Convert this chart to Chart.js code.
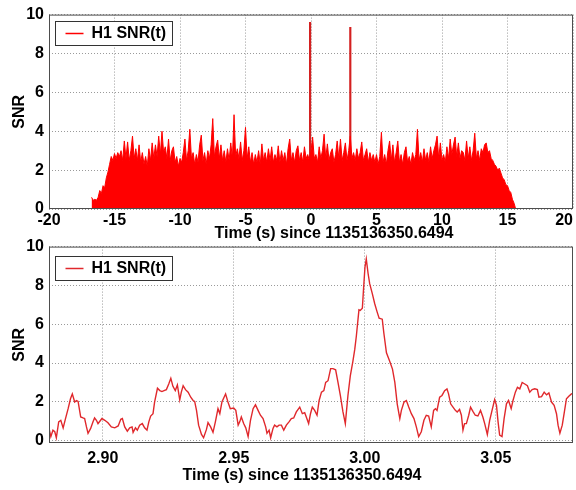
<!DOCTYPE html>
<html>
<head>
<meta charset="utf-8">
<script src="https://cdn.jsdelivr.net/npm/chart.js@4.4.0/dist/chart.umd.min.js"></script>
<style>
  body { margin: 0; background: #fff; }
  #wrap { position: relative; width: 576px; height: 490px; overflow: hidden; }
  .panel { position: absolute; left: 0; width: 576px; }
  #topPanel { top: 0; height: 245px; }
  #bottomPanel { top: 232px; height: 258px; }
</style>
</head>
<body>
<div id="wrap">
  <div class="panel" id="topPanel"><canvas id="topChart"></canvas></div>
  <div class="panel" id="bottomPanel"><canvas id="bottomChart"></canvas></div>
</div>
<script>
const seriesLabel = 'H1 SNR(t)';
const xTitle = 'Time (s) since 1135136350.6494';
const yTitle = 'SNR';

// overview panel: SNR envelope read every 0.125 s from -16.75 s
const overviewStart = -16.75;
const overviewStep = 0.125;
const overviewSnr = [
  0.6, 0.45, 0.5, 0.45, 0.6, 0.95, 0.8, 1.2,
  1.1, 1.6, 1.9, 2.3, 2.7, 2.5, 2.85, 2.6,
  2.9, 2.7, 3.0, 2.5, 3.5, 2.6, 3.45, 2.5,
  3.0, 3.75, 2.6, 3.1, 2.5, 3.3, 2.4, 2.9,
  2.3, 2.7, 2.2, 3.1, 2.5, 3.4, 2.6, 3.3,
  2.7, 3.75, 2.8, 4.0, 2.9, 3.2, 2.6, 3.6,
  2.5, 3.0, 3.2, 2.4, 2.7, 2.2, 2.6, 2.4,
  2.9, 3.6, 2.5, 3.0, 4.1, 2.6, 2.9, 2.3,
  2.8, 2.4, 3.3, 3.8, 2.5, 2.9, 2.3, 3.0,
  2.6, 3.3, 4.65, 2.7, 3.2, 3.55, 2.6, 3.3,
  2.5, 3.0, 2.4, 3.1, 2.5, 3.4, 2.6, 4.85,
  2.7, 3.1, 2.6, 3.45, 2.5, 3.0, 4.2, 2.6,
  3.2, 2.4, 2.9, 2.3, 2.8, 2.4, 3.0, 2.3,
  3.35, 2.5, 2.9, 2.4, 3.1, 2.5, 3.2, 2.4,
  2.8, 2.5, 3.25, 2.4, 3.0, 2.5, 2.9, 2.3,
  3.1, 3.6, 2.5, 2.9, 2.4, 3.0, 3.25, 2.5,
  2.9, 2.4, 3.2, 2.6, 2.8, 2.5, 3.0, 3.7,
  2.6, 2.8, 2.4, 3.2, 2.6, 3.0, 3.85, 2.6,
  3.35, 2.5, 2.9, 3.1, 2.4, 2.8, 3.5, 2.6,
  3.6, 2.5, 2.9, 3.4, 2.5, 3.0, 3.75, 2.6,
  2.9, 2.5, 3.1, 2.6, 2.9, 3.45, 2.5, 2.8,
  3.1, 2.4, 2.9, 2.5, 2.8, 2.4, 2.8, 2.3,
  2.7, 3.95, 2.4, 2.8, 2.3, 3.0, 3.5, 2.5,
  3.3, 2.4, 2.9, 3.5, 2.4, 2.8, 2.3, 2.9,
  3.2, 2.4, 2.7, 2.3, 2.9, 2.5, 2.8, 4.1,
  2.5, 2.9, 2.4, 3.1, 2.5, 2.9, 2.4, 3.2,
  2.6, 3.0, 3.3, 3.75, 2.6, 3.4, 2.5, 2.8,
  2.4, 3.2, 2.6, 3.6, 2.8, 3.3, 3.7, 2.7,
  3.4, 2.6, 3.0, 2.9, 2.5, 3.5, 2.6, 3.2,
  2.5, 3.0, 3.9, 2.6, 3.0, 2.5, 3.1, 2.9,
  3.3, 3.4, 2.9, 3.0, 2.6, 2.5, 2.3, 2.2,
  2.0, 2.1, 1.85, 1.6, 1.5, 1.25, 1.2, 0.95,
  0.85, 0.5, 0.3, 0.0
];
// the two narrow glitches that reach ~9.5
const spikeTimes = [-0.07, 3.0];
const spikeSnr = [9.6, 9.35];
const overviewTicks = [-20, -15, -10, -5, 0, 5, 10, 15, 20];

// zoomed panel around 3.0 s
const zoomTimes = [
  2.8794, 2.8802, 2.8810, 2.8817, 2.8823, 2.8832, 2.8840, 2.8849, 2.8858, 2.8868,
  2.8877, 2.8884, 2.8893, 2.8900, 2.8906, 2.8916, 2.8925, 2.8931, 2.8938, 2.8944,
  2.8954, 2.8963, 2.8969, 2.8976, 2.8982, 2.8989, 2.8997, 2.9008, 2.9020, 2.9033,
  2.9046, 2.9059, 2.9069, 2.9075, 2.9084, 2.9094, 2.9103, 2.9112, 2.9116, 2.9125,
  2.9132, 2.9141, 2.9151, 2.9160, 2.9169, 2.9176, 2.9183, 2.9192, 2.9198, 2.9209,
  2.9218, 2.9226, 2.9234, 2.9243, 2.9252, 2.9260, 2.9268, 2.9277, 2.9285, 2.9294,
  2.9300, 2.9307, 2.9316, 2.9326, 2.9336, 2.9345, 2.9351, 2.9358, 2.9366, 2.9377,
  2.9385, 2.9396, 2.9402, 2.9412, 2.9421, 2.9430, 2.9440, 2.9447, 2.9455, 2.9469,
  2.9478, 2.9487, 2.9500, 2.9508, 2.9517, 2.9523, 2.9529, 2.9538, 2.9546, 2.9555,
  2.9564, 2.9574, 2.9583, 2.9593, 2.9602, 2.9612, 2.9622, 2.9627, 2.9635, 2.9641,
  2.9650, 2.9656, 2.9665, 2.9673, 2.9682, 2.9691, 2.9701, 2.9711, 2.9720, 2.9729,
  2.9739, 2.9752, 2.9762, 2.9771, 2.9777, 2.9786, 2.9793, 2.9800, 2.9809, 2.9818,
  2.9826, 2.9835, 2.9844, 2.9851, 2.9860, 2.9870, 2.9879, 2.9889, 2.9898, 2.9907,
  2.9917, 2.9926, 2.9936, 2.9945, 2.9955, 2.9962, 2.9968, 2.9978, 2.9983, 2.9991,
  2.9996, 3.0001, 3.0006, 3.0013, 3.0019, 3.0029, 3.0038, 3.0047, 3.0055, 3.0067,
  3.0073, 3.0083, 3.0095, 3.0106, 3.0115, 3.0124, 3.0134, 3.0140, 3.0150, 3.0159,
  3.0168, 3.0178, 3.0188, 3.0197, 3.0206, 3.0216, 3.0226, 3.0235, 3.0244, 3.0254,
  3.0263, 3.0270, 3.0276, 3.0286, 3.0295, 3.0305, 3.0314, 3.0320, 3.0328, 3.0337,
  3.0346, 3.0353, 3.0362, 3.0369, 3.0375, 3.0381, 3.0388, 3.0397, 3.0404, 3.0413,
  3.0422, 3.0432, 3.0442, 3.0451, 3.0458, 3.0468, 3.0477, 3.0486, 3.0496, 3.0503,
  3.0509, 3.0515, 3.0524, 3.0532, 3.0541, 3.0549, 3.0559, 3.0566, 3.0575, 3.0583,
  3.0592, 3.0601, 3.0611, 3.0621, 3.0630, 3.0639, 3.0649, 3.0659, 3.0665, 3.0675,
  3.0685, 3.0694, 3.0703, 3.0713, 3.0723, 3.0732, 3.0738, 3.0745, 3.0754, 3.0761,
  3.0770, 3.0779, 3.0789, 3.0798
];
const zoomSnr = [
  0.71, 0.21, 0.54, 0.46, 0.15, 0.97, 1.05, 0.66, 1.14, 1.65,
  2.16, 2.41, 1.99, 2.07, 2.02, 1.22, 1.17, 1.14, 0.71, 0.38,
  0.63, 0.97, 1.17, 1.05, 0.88, 1.00, 1.14, 1.05, 0.92, 0.71,
  0.66, 0.76, 1.10, 1.14, 0.71, 0.49, 0.66, 0.71, 0.43, 0.66,
  0.54, 0.80, 0.88, 0.66, 0.54, 0.97, 1.27, 1.39, 1.99, 2.70,
  2.58, 2.53, 2.58, 2.63, 2.92, 3.21, 2.80, 2.58, 2.87, 2.10,
  2.50, 2.83, 2.63, 2.50, 2.24, 2.07, 2.02, 1.56, 0.80, 0.32,
  0.15, 0.58, 0.93, 0.71, 0.43, 0.97, 1.65, 1.39, 1.99, 2.41,
  1.99, 1.65, 1.68, 1.56, 0.80, 0.97, 1.22, 0.88, 0.66, 0.21,
  1.05, 1.65, 1.85, 1.56, 1.31, 1.14, 0.71, 0.38, 0.54, 0.15,
  0.63, 0.80, 0.71, 0.80, 0.80, 0.54, 0.80, 0.97, 1.14, 1.17,
  1.48, 1.73, 1.39, 1.44, 1.22, 0.88, 1.39, 1.73, 1.56, 1.31,
  2.07, 2.50, 2.58, 3.00, 3.09, 3.71, 3.71, 3.65, 3.00, 2.33,
  1.48, 0.88, 2.33, 3.34, 4.10, 4.70, 5.38, 6.74, 6.71, 6.82,
  7.92, 8.94, 9.36, 8.60, 8.09, 7.58, 7.07, 6.65, 6.31, 6.26,
  5.55, 4.53, 4.10, 3.69, 3.00, 1.90, 1.14, 1.56, 1.99, 2.07,
  1.73, 1.39, 1.14, 0.71, 0.21, 0.46, 1.05, 1.31, 1.27, 0.71,
  1.56, 1.65, 1.56, 2.24, 2.33, 2.58, 2.67, 2.41, 1.90, 1.73,
  1.56, 1.48, 1.61, 1.31, 0.54, 0.88, 0.88, 1.31, 1.73, 1.51,
  1.31, 1.27, 1.56, 1.22, 0.88, 0.32, 1.05, 1.56, 2.12, 1.82,
  0.97, 0.29, 0.21, 1.14, 1.90, 2.07, 1.65, 2.07, 2.50, 2.75,
  2.67, 3.00, 2.92, 2.83, 2.50, 2.63, 2.67, 2.63, 2.24, 2.27,
  2.50, 2.36, 2.46, 1.99, 1.82, 1.39, 0.80, 0.38, 0.80, 1.39,
  2.16, 2.29, 2.41, 2.45
];
const zoomTicks = [2.90, 2.95, 3.00, 3.05];
const snrTicks = [0, 2, 4, 6, 8, 10];

const fontFamily = '"Liberation Sans", Arial, Helvetica, sans-serif';
const tickFont = {family: fontFamily, size: 16, weight: 'bold'};

// frame, boxed legend, x axis title and the right edge tick label
const framePlugin = {
    id: 'frame',
    afterDraw(chart, args, opts) {
        const ctx = chart.ctx
        const a = chart.chartArea
        const ds = chart.data.datasets[0]
        ctx.save()
        ctx.strokeStyle = '#4d4d4d'
        ctx.lineWidth = 1
        ctx.strokeRect(a.left + 0.5, a.top + 0.5, a.width - 1, a.height - 1)

        ctx.font = 'bold 16px ' + fontFamily
        const tw = ctx.measureText(ds.label).width
        const bx = Math.round(a.left + 6) + 0.5
        const by = Math.round(a.top + opts.legendTop) + 0.5
        const bw = Math.round(tw + 42)
        ctx.fillStyle = '#fff'
        ctx.fillRect(bx, by, bw, 24)
        ctx.strokeStyle = '#333'
        ctx.strokeRect(bx, by, bw, 24)
        ctx.strokeStyle = ds.borderColor
        ctx.lineWidth = 1.5
        ctx.beginPath()
        ctx.moveTo(bx + 10, by + 12)
        ctx.lineTo(bx + 28, by + 12)
        ctx.stroke()
        ctx.fillStyle = '#000'
        ctx.textBaseline = 'middle'
        ctx.textAlign = 'left'
        ctx.fillText(ds.label, bx + 36, by + 12.5)

        ctx.textAlign = 'center'
        ctx.fillText(xTitle, (a.left + a.right) / 2 + opts.titleShift, opts.titleY)

        if (opts.edgeLabel) {
            const xs = chart.scales.x
            ctx.textAlign = 'right'
            ctx.fillText(opts.edgeLabel, xs.getPixelForValue(xs.max), xs.top + opts.tickPad + 9.6)
        }
        ctx.restore()
    }
};

function axisOptions(cfg) {
    return {
        x: {
            type: 'linear',
            min: cfg.xMin,
            max: cfg.xMax,
            offset: false,
            afterBuildTicks: scale => { scale.ticks = cfg.xTicks.map(v => ({value: v})) },
            afterFit: scale => { scale.height = cfg.xHeight },
            ticks: {
                font: tickFont,
                color: '#000',
                padding: cfg.tickPad,
                maxRotation: 0,
                autoSkip: false,
                callback: cfg.xFormat
            },
            grid: {color: '#9a9a9a', lineWidth: 1, drawTicks: false, offset: false},
            border: {display: false, dash: [1, 2]}
        },
        y: {
            min: cfg.yMin,
            max: 10,
            afterBuildTicks: scale => { scale.ticks = snrTicks.map(v => ({value: v})) },
            afterFit: scale => { scale.width = 49 },
            ticks: {font: tickFont, color: '#000', padding: 5},
            grid: {color: '#9a9a9a', lineWidth: 1, drawTicks: false},
            border: {display: false, dash: [1, 2]},
            title: {display: true, text: yTitle, font: tickFont, color: '#000', padding: {top: 10, bottom: 0}}
        }
    }
}

new Chart(document.getElementById('topChart'), {
    type: 'line',
    data: {
        datasets: [{
            label: seriesLabel,
            data: overviewSnr.map((v, i) => ({x: overviewStart + i * overviewStep, y: v})),
            borderColor: '#ff0000',
            backgroundColor: '#ff0000',
            borderWidth: 1,
            fill: 'origin',
            pointRadius: 0,
            tension: 0
        }, {
            type: 'bar',
            label: 'spikes',
            data: spikeTimes.map((t, i) => ({x: t, y: spikeSnr[i]})),
            backgroundColor: '#d42020',
            borderWidth: 0,
            barThickness: 1.5
        }]
    },
    options: {
        animation: false,
        responsive: true,
        maintainAspectRatio: false,
        events: [],
        layout: {padding: {left: 0, right: 3, top: 13, bottom: 0}},
        plugins: {
            legend: {display: false},
            tooltip: {enabled: false},
            frame: {legendTop: 6, titleY: 234, titleShift: 23, edgeLabel: '20', tickPad: 2}
        },
        scales: axisOptions({
            xMin: -20, xMax: 20, xTicks: overviewTicks, xHeight: 36, tickPad: 2, yMin: 0,
            xFormat: v => (v === 20 ? '' : String(v))
        })
    },
    plugins: [framePlugin]
});

new Chart(document.getElementById('bottomChart'), {
    type: 'line',
    data: {
        datasets: [{
            label: seriesLabel,
            data: zoomTimes.map((t, i) => ({x: t, y: zoomSnr[i]})),
            borderColor: '#e0282c',
            borderWidth: 1.4,
            fill: false,
            pointRadius: 0,
            tension: 0
        }]
    },
    options: {
        animation: false,
        responsive: true,
        maintainAspectRatio: false,
        events: [],
        layout: {padding: {left: 0, right: 3, top: 14, bottom: 0}},
        plugins: {
            legend: {display: false},
            tooltip: {enabled: false},
            frame: {legendTop: 9, titleY: 244, titleShift: -9}
        },
        scales: axisOptions({
            xMin: 2.8795, xMax: 3.0795, xTicks: zoomTicks, xHeight: 47, tickPad: 6, yMin: -0.12,
            xFormat: v => v.toFixed(2)
        })
    },
    plugins: [framePlugin]
});
</script>
</body>
</html>
